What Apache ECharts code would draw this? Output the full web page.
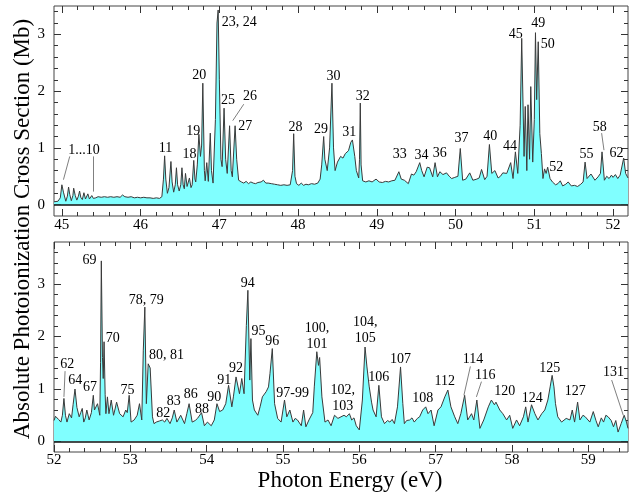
<!DOCTYPE html>
<html><head><meta charset="utf-8">
<script src="https://cdn.jsdelivr.net/npm/echarts@6/dist/echarts.min.js"></script>
<style>html,body{margin:0;padding:0;background:#fff}#c{width:634px;height:495px}</style>
</head><body><div id="c"></div>
<script>
// ---------- Data: upper panel (44.9 - 52.19 eV) ----------
const topEnergy = [44.90,44.95,44.98,45.00,45.02,45.05,45.07,45.085,45.10,45.12,45.14,45.15,45.17,45.19,45.21,45.225,45.24,45.26,45.28,45.30,45.32,45.33,45.35,45.37,45.38,45.40,45.43,45.46,45.50,45.54,45.58,45.62,45.66,45.70,45.74,45.77,45.80,45.84,45.88,45.92,45.96,46.00,46.04,46.08,46.12,46.16,46.20,46.24,46.27,46.29,46.305,46.32,46.34,46.36,46.385,46.40,46.42,46.44,46.455,46.47,46.49,46.51,46.525,46.54,46.555,46.57,46.59,46.605,46.62,46.64,46.655,46.675,46.69,46.70,46.72,46.74,46.76,46.775,46.79,46.81,46.82,46.84,46.86,46.885,46.90,46.92,46.95,46.97,46.985,47.00,47.02,47.035,47.06,47.08,47.10,47.13,47.15,47.165,47.20,47.22,47.245,47.28,47.31,47.34,47.37,47.40,47.43,47.46,47.49,47.53,47.56,47.59,47.62,47.66,47.70,47.74,47.78,47.82,47.86,47.90,47.93,47.944,47.96,47.98,48.01,48.04,48.07,48.10,48.13,48.17,48.21,48.25,48.28,48.30,48.325,48.34,48.37,48.40,48.43,48.45,48.47,48.50,48.54,48.57,48.60,48.64,48.67,48.69,48.72,48.74,48.77,48.78,48.79,48.80,48.82,48.86,48.90,48.94,48.99,49.03,49.07,49.11,49.15,49.19,49.23,49.28,49.31,49.35,49.40,49.44,49.47,49.50,49.545,49.57,49.60,49.64,49.67,49.71,49.74,49.77,49.80,49.84,49.885,49.92,49.95,49.99,50.03,50.06,50.09,50.13,50.18,50.22,50.27,50.30,50.33,50.37,50.40,50.43,50.46,50.50,50.54,50.57,50.60,50.65,50.70,50.73,50.76,50.79,50.82,50.84,50.87,50.885,50.905,50.92,50.94,50.955,50.98,51.00,51.015,51.03,51.05,51.07,51.09,51.11,51.13,51.15,51.17,51.20,51.23,51.27,51.30,51.33,51.36,51.40,51.43,51.47,51.51,51.55,51.59,51.62,51.645,51.67,51.72,51.77,51.81,51.84,51.86,51.89,51.92,51.95,51.98,52.00,52.03,52.06,52.09,52.115,52.135,52.16,52.19];
const topSigma = [0.05,0.06,0.12,0.35,0.22,0.06,0.15,0.31,0.18,0.07,0.16,0.29,0.16,0.08,0.15,0.24,0.13,0.09,0.21,0.10,0.12,0.19,0.10,0.12,0.16,0.11,0.12,0.14,0.13,0.14,0.13,0.14,0.13,0.14,0.13,0.17,0.14,0.13,0.14,0.12,0.13,0.12,0.13,0.12,0.12,0.11,0.12,0.11,0.14,0.45,0.86,0.45,0.20,0.30,0.76,0.40,0.22,0.35,0.65,0.35,0.24,0.35,0.65,0.35,0.28,0.55,0.32,0.30,0.47,0.30,0.35,0.78,0.45,0.40,0.70,1.24,0.85,1.05,2.14,0.60,0.42,0.74,0.41,1.26,0.60,0.38,1.50,3.20,3.43,2.20,0.80,0.67,1.70,0.80,0.55,1.39,0.60,0.49,1.39,0.80,0.43,0.40,0.38,0.41,0.37,0.40,0.38,0.37,0.39,0.40,0.43,0.38,0.38,0.37,0.36,0.35,0.34,0.35,0.34,0.35,0.60,1.25,0.50,0.37,0.34,0.38,0.34,0.36,0.35,0.37,0.36,0.38,0.45,0.70,1.20,0.80,0.60,1.00,2.14,1.00,0.60,0.75,0.85,0.82,0.90,0.95,1.10,1.14,0.85,0.60,0.47,0.80,1.79,0.70,0.42,0.40,0.42,0.40,0.45,0.40,0.39,0.41,0.40,0.42,0.43,0.58,0.45,0.43,0.37,0.54,0.52,0.58,0.74,0.60,0.49,0.66,0.65,0.49,0.74,0.49,0.58,0.53,0.56,0.50,0.46,0.48,0.50,0.99,0.43,0.45,0.56,0.43,0.45,0.47,0.62,0.44,0.50,1.06,0.55,0.60,0.47,0.50,0.56,0.55,0.74,0.46,0.93,0.55,1.40,2.93,0.85,1.73,0.60,1.76,0.80,2.08,0.75,1.50,3.03,1.85,2.87,1.25,0.90,0.46,0.63,0.55,0.66,0.46,0.40,0.35,0.37,0.42,0.33,0.36,0.40,0.33,0.34,0.32,0.36,0.40,0.75,0.46,0.54,0.43,0.49,0.55,0.93,0.43,0.50,0.46,0.52,0.48,0.53,0.46,0.52,0.55,0.82,0.55,0.47];

// ---------- Data: lower panel (52 - 59.52 eV) ----------
const botEnergy = [52.00,52.02,52.04,52.06,52.09,52.11,52.13,52.15,52.17,52.20,52.23,52.25,52.275,52.30,52.33,52.35,52.37,52.39,52.41,52.43,52.46,52.49,52.515,52.53,52.55,52.57,52.60,52.61,52.62,52.635,52.645,52.656,52.67,52.68,52.70,52.72,52.75,52.78,52.80,52.82,52.86,52.905,52.94,52.96,52.985,53.01,53.05,53.09,53.12,53.15,53.17,53.19,53.21,53.234,53.26,53.29,53.31,53.34,53.38,53.42,53.45,53.48,53.52,53.55,53.575,53.61,53.66,53.71,53.74,53.77,53.81,53.85,53.88,53.933,53.97,54.01,54.06,54.10,54.135,54.17,54.21,54.25,54.287,54.33,54.35,54.385,54.43,54.46,54.49,54.52,54.54,54.565,54.58,54.60,54.625,54.67,54.70,54.73,54.78,54.81,54.83,54.86,54.89,54.93,54.975,55.02,55.05,55.09,55.13,55.16,55.19,55.24,55.27,55.30,55.34,55.39,55.41,55.443,55.465,55.48,55.51,55.55,55.59,55.63,55.675,55.72,55.76,55.80,55.83,55.87,55.90,55.93,55.96,56.00,56.04,56.075,56.10,56.13,56.16,56.18,56.22,56.256,56.29,56.33,56.37,56.40,56.43,56.46,56.50,56.54,56.57,56.59,56.62,56.66,56.69,56.72,56.76,56.79,56.83,56.87,56.90,56.94,56.98,57.03,57.07,57.12,57.16,57.20,57.25,57.29,57.33,57.38,57.42,57.47,57.50,57.54,57.58,57.63,57.69,57.73,57.77,57.79,57.84,57.88,57.93,57.97,58.01,58.06,58.10,58.15,58.18,58.21,58.256,58.30,58.34,58.39,58.43,58.47,58.50,58.526,58.55,58.57,58.60,58.65,58.71,58.76,58.79,58.82,58.86,58.89,58.93,58.96,59.02,59.065,59.10,59.13,59.17,59.20,59.23,59.26,59.30,59.33,59.36,59.39,59.43,59.47,59.50,59.52];
const botSigma = [0.40,0.48,0.50,0.42,0.37,0.50,0.82,0.50,0.37,0.53,0.45,0.70,1.00,0.65,0.47,0.55,0.63,0.37,0.45,0.60,0.41,0.55,0.88,0.60,0.57,0.72,0.50,1.50,3.44,1.60,1.20,1.90,0.90,0.53,0.85,0.53,0.79,0.50,0.62,0.75,0.53,0.47,0.60,0.55,0.88,0.37,0.41,0.50,0.72,0.41,1.74,2.56,0.72,1.48,1.40,0.47,0.34,0.37,0.39,0.41,0.37,0.44,0.34,0.45,0.60,0.37,0.50,0.34,0.53,0.72,0.37,0.40,0.44,0.55,0.30,0.37,0.30,0.41,0.72,0.57,0.60,0.72,1.07,0.66,0.85,1.23,0.91,1.20,0.91,2.21,2.88,1.17,1.96,0.79,0.60,0.50,0.66,0.85,0.95,1.04,1.30,1.77,0.72,0.44,0.37,0.79,0.47,0.60,0.37,0.44,0.41,0.30,0.60,0.28,0.41,0.55,1.04,1.71,1.45,1.60,0.85,0.37,0.41,0.30,0.50,0.44,0.47,0.50,0.47,0.53,0.41,0.45,0.30,0.22,0.79,1.80,1.42,1.04,0.75,0.60,0.47,1.07,0.47,0.34,0.40,0.37,0.42,0.34,0.66,1.42,0.72,0.34,0.40,0.41,0.45,0.37,0.44,0.47,0.60,0.66,0.53,0.60,0.30,0.60,0.66,0.85,0.98,0.66,0.47,0.34,0.53,0.88,0.41,0.53,0.41,0.79,0.25,0.41,0.66,0.79,0.70,0.75,0.60,0.53,0.41,0.50,0.25,0.41,0.30,0.47,0.66,0.37,0.70,0.53,0.41,0.53,0.60,0.79,1.04,1.26,1.04,0.72,0.47,0.37,0.44,0.41,0.60,0.37,0.75,0.41,0.50,0.47,0.37,0.57,0.40,0.28,0.45,0.37,0.50,0.47,0.40,0.28,0.40,0.18,0.34,0.50,0.37,0.25];

// ---------- Tick labels ----------
const topXTicks = [45,46,47,48,49,50,51,52];
const botXTicks = [52,53,54,55,56,57,58,59];
const yTicks = [0,1,2,3];

// ---------- Peak annotations (text, energy, cross section) ----------
const topLabText = ['1...10','11','18','19','20','23, 24','25','26','27','28','29','30','31','32','33','34','36','37','40','44','45','49','50','52','55','58','62'];
const topLabE = [45.28,46.315,46.62,46.67,46.745,47.254,47.11,47.39,47.33,47.967,48.29,48.45,48.65,48.82,49.29,49.567,49.80,50.075,50.44,50.69,50.765,51.05,51.17,51.28,51.663,51.83,52.045];
const topLabY = [0.96,0.99,0.88,1.29,2.28,3.22,1.84,1.90,1.38,1.37,1.33,2.26,1.28,1.90,0.88,0.875,0.90,1.17,1.21,1.02,3.00,3.20,2.82,0.65,0.89,1.36,0.90];
// leader lines [E1, y1, E2, y2]
const topLeaders = [[45.10,0.85,45.02,0.44],[45.40,0.85,45.40,0.23],[47.31,1.77,47.17,1.48],[51.855,1.26,51.885,0.96]];

const botLabText = ['62','64','67','69','70','75','78, 79','80, 81','82','83','86','88','90','91','92','94','95','96','97-99','100,\n101','102,\n103','104,\n105','106','107','108','112','114','116','120','124','125','127','131'];
const botLabE = [52.175,52.28,52.47,52.465,52.77,52.962,53.207,53.474,53.43,53.57,53.79,53.94,54.10,54.23,54.385,54.537,54.68,54.86,55.127,55.445,55.784,56.078,56.255,56.54,56.83,57.12,57.49,57.65,57.905,58.264,58.496,58.83,59.33];
const botLabY = [1.47,1.17,1.04,3.45,1.97,0.98,2.69,1.64,0.54,0.76,0.90,0.62,0.85,1.17,1.40,3.01,2.09,1.91,0.91,2.00,0.83,2.12,1.23,1.57,0.82,1.15,1.57,1.26,0.96,0.83,1.40,0.96,1.31];
const botLeaders = [[52.145,1.34,52.13,0.85],[57.455,1.43,57.37,0.88],[57.60,1.14,57.534,0.85],[59.306,1.17,59.458,0.50]];

// ---------- Build chart ----------
const FONT = 'Liberation Serif';
const AXC = '#333';
function steps(a, b, s) { const r = []; for (let v = a; v <= b + 1e-9; v += s) r.push(Math.round(v * 10) / 10); return r; }

function xAx(grid, pos, min, max, ticks, len, labels, margin) {
  return { type: 'value', gridIndex: grid, position: pos, min: min, max: max,
    axisLine: { show: false, onZero: false }, splitLine: { show: false },
    axisTick: { show: true, inside: true, length: len, customValues: ticks, lineStyle: { color: AXC, width: 1 } },
    axisLabel: labels ? { show: true, customValues: labels, margin: margin, fontFamily: FONT, fontSize: 15, color: '#000' } : { show: false },
    silent: true };
}
function yAx(grid, pos, min, max, ticks, len, labels) {
  return { type: 'value', gridIndex: grid, position: pos, min: min, max: max,
    axisLine: { show: false, onZero: false }, splitLine: { show: false },
    axisTick: { show: true, inside: true, length: len, customValues: ticks, lineStyle: { color: AXC, width: 1 } },
    axisLabel: labels ? { show: true, customValues: labels, margin: 9, fontFamily: FONT, fontSize: 15, color: '#000' } : { show: false },
    silent: true };
}

const T = { xmin: 44.9, xmax: 52.19, ymin: -0.2, ymax: 3.5 };
const B = { xmin: 52.0, xmax: 59.52, ymin: -0.2, ymax: 3.8 };
const topMinorX = steps(45.0, 52.0, 0.2), botMinorX = steps(52.0, 59.4, 0.2);
const topMinorY = steps(0, 3.4, 0.2), botMinorY = steps(0, 3.6, 0.2);

const xAxes = [
  xAx(0, 'bottom', T.xmin, T.xmax, topXTicks, 7, topXTicks, 2),
  xAx(0, 'bottom', T.xmin, T.xmax, topMinorX, 4, null),
  xAx(0, 'top', T.xmin, T.xmax, topXTicks, 7, null),
  xAx(0, 'top', T.xmin, T.xmax, topMinorX, 4, null),
  xAx(1, 'bottom', B.xmin, B.xmax, botXTicks, 7, botXTicks, 1),
  xAx(1, 'bottom', B.xmin, B.xmax, botMinorX, 4, null),
  xAx(1, 'top', B.xmin, B.xmax, botXTicks, 7, null),
  xAx(1, 'top', B.xmin, B.xmax, botMinorX, 4, null)
];
const yAxes = [
  yAx(0, 'left', T.ymin, T.ymax, yTicks, 7, yTicks),
  yAx(0, 'left', T.ymin, T.ymax, topMinorY, 4, null),
  yAx(0, 'right', T.ymin, T.ymax, yTicks, 7, null),
  yAx(0, 'right', T.ymin, T.ymax, topMinorY, 4, null),
  yAx(1, 'left', B.ymin, B.ymax, yTicks, 7, yTicks),
  yAx(1, 'left', B.ymin, B.ymax, botMinorY, 4, null),
  yAx(1, 'right', B.ymin, B.ymax, yTicks, 7, null),
  yAx(1, 'right', B.ymin, B.ymax, botMinorY, 4, null)
];

function spectrum(E, S, ax) {
  return { type: 'line', xAxisIndex: ax, yAxisIndex: ax, symbol: 'none', silent: true,
    data: E.map((e, i) => [e, S[i]]),
    lineStyle: { color: '#3a3a3a', width: 1 },
    areaStyle: { color: '#80ffff', opacity: 1 },
    markLine: { silent: true, symbol: ['none', 'none'], label: { show: false },
      lineStyle: { color: '#111', width: 1.5, type: 'solid' }, data: [{ yAxis: 0 }], animation: false },
    z: 2 };
}
function leaderSeries(leaders, ax) {
  return { type: 'lines', coordinateSystem: 'cartesian2d', xAxisIndex: ax, yAxisIndex: ax, silent: true,
    lineStyle: { color: '#808080', width: 1, opacity: 1 },
    data: leaders.map(l => ({ coords: [[l[0], l[1]], [l[2], l[3]]] })), z: 5 };
}

const chart = echarts.init(document.getElementById('c'), null, { renderer: 'canvas' });
chart.setOption({
  animation: false,
  backgroundColor: '#fff',
  grid: [
    { left: 54, top: 6, width: 574, height: 210, show: true, borderColor: '#444', borderWidth: 1, backgroundColor: 'transparent' },
    { left: 54, top: 242, width: 574, height: 210, show: true, borderColor: '#444', borderWidth: 1, backgroundColor: 'transparent' }
  ],
  xAxis: xAxes,
  yAxis: yAxes,
  series: [
    spectrum(topEnergy, topSigma, 0),
    spectrum(botEnergy, botSigma, 4),
    leaderSeries(topLeaders, 0),
    leaderSeries(botLeaders, 4)
  ]
});

// Peak labels placed through the chart's own axis scales
function labelGraphics(txt, E, Y, ax) {
  return txt.map((t, i) => {
    const p = chart.convertToPixel({ xAxisIndex: ax, yAxisIndex: ax }, [E[i], Y[i]]);
    return { type: 'text', x: p[0], y: p[1], silent: true, z: 10,
      style: { text: t, fontFamily: FONT, fontSize: 14, lineHeight: 16, fill: '#000', textAlign: 'center', textVerticalAlign: 'middle' } };
  });
}
chart.setOption({
  graphic: [
    { type: 'text', x: 23, y: 229, rotation: Math.PI / 2, silent: true,
      style: { text: 'Absolute Photoionization Cross Section (Mb)', fontFamily: FONT, fontSize: 23, fill: '#000', textAlign: 'center', textVerticalAlign: 'middle' } },
    { type: 'text', x: 350, y: 481, silent: true,
      style: { text: 'Photon Energy (eV)', fontFamily: FONT, fontSize: 23, fill: '#000', textAlign: 'center', textVerticalAlign: 'middle' } }
  ].concat(labelGraphics(topLabText, topLabE, topLabY, 0), labelGraphics(botLabText, botLabE, botLabY, 4))
});
</script></body></html>
